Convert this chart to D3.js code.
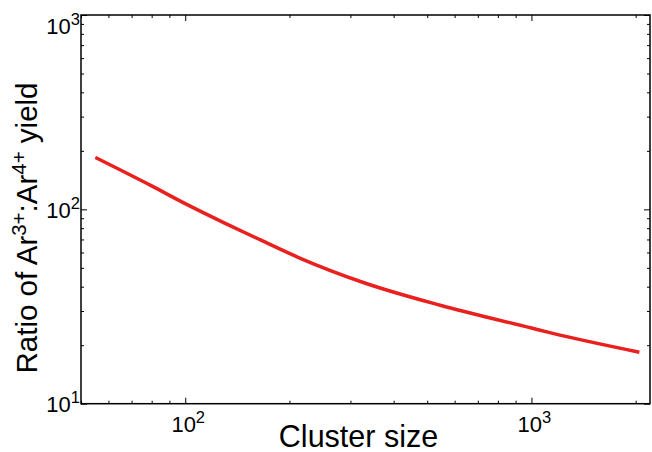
<!DOCTYPE html>
<html>
<head>
<meta charset="utf-8">
<script src="https://cdn.jsdelivr.net/npm/d3@7"></script>
<style>
  html, body { margin: 0; padding: 0; background: #fff; }
  svg { display: block; font-family: "Liberation Sans", Arial, sans-serif; }
  .domain { display: none; }
</style>
</head>
<body>
<svg id="chart" width="652" height="452"></svg>
<script>
// Cluster size vs. Ar3+:Ar4+ yield ratio
const clusterSize = [55, 80, 100, 130, 165, 215, 330, 545, 1000, 1130, 2050];
const yieldRatio  = [185, 132, 107, 85, 69.6, 56, 41.8, 32.1, 24.5, 23.2, 18.4];

const xDomain = [50, 2200];
const yDomain = [10, 1000];
const xMajor = [100, 1000];
const yMajor = [10, 100, 1000];
const xMajorExp = [2, 3];
const yMajorExp = [1, 2, 3];

const svg = d3.select("#chart");
const plotLeft = 81, plotRight = 650, plotTop = 15, plotBottom = 403.7;

const x = d3.scaleLog().domain(xDomain).range([plotLeft, plotRight]);
const y = d3.scaleLog().domain(yDomain).range([plotBottom, plotTop]);

// minor tick values (2..9 × 10^e) inside the domain
function minors(domain) {
  const out = [];
  for (let e = -1; e <= 5; e++) {
    for (let m = 2; m <= 9; m++) {
      const v = m * Math.pow(10, e);
      if (v >= domain[0] && v <= domain[1]) out.push(v);
    }
  }
  return out;
}
const xMinor = minors(xDomain);
const yMinor = minors(yDomain);

const major = 6, minor = 3;
function addAxis(gen, transform) {
  svg.append("g").attr("transform", transform).call(gen)
    .call(g => g.selectAll("line").attr("stroke", "#000").attr("stroke-width", 1));
}
const noLabel = () => "";
// bottom / top
addAxis(d3.axisBottom(x).tickValues(xMajor).tickSize(-major).tickFormat(noLabel), `translate(0,${plotBottom})`);
addAxis(d3.axisBottom(x).tickValues(xMinor).tickSize(-minor).tickFormat(noLabel), `translate(0,${plotBottom})`);
addAxis(d3.axisTop(x).tickValues(xMajor).tickSize(-major).tickFormat(noLabel), `translate(0,${plotTop})`);
addAxis(d3.axisTop(x).tickValues(xMinor).tickSize(-minor).tickFormat(noLabel), `translate(0,${plotTop})`);
// left / right
addAxis(d3.axisLeft(y).tickValues(yMajor).tickSize(-major).tickFormat(noLabel), `translate(${plotLeft},0)`);
addAxis(d3.axisLeft(y).tickValues(yMinor).tickSize(-minor).tickFormat(noLabel), `translate(${plotLeft},0)`);
addAxis(d3.axisRight(y).tickValues(yMajor).tickSize(-major).tickFormat(noLabel), `translate(${plotRight},0)`);
addAxis(d3.axisRight(y).tickValues(yMinor).tickSize(-minor).tickFormat(noLabel), `translate(${plotRight},0)`);

// frame
svg.append("rect")
  .attr("x", plotLeft).attr("y", plotTop)
  .attr("width", plotRight - plotLeft).attr("height", plotBottom - plotTop)
  .attr("fill", "none").attr("stroke", "#000").attr("stroke-width", 1.5);

// tick labels as 10^n
function powerLabel(g, exp, anchor) {
  const t = g.append("text").attr("text-anchor", anchor).attr("fill", "#000").attr("font-size", 22);
  t.append("tspan").text("10");
  t.append("tspan").attr("font-size", 16.5).attr("dy", -9).text(exp);
}
xMajor.forEach((v, i) => {
  const g = svg.append("g").attr("transform", `translate(${x(v) + 3},${plotBottom + 28})`);
  powerLabel(g, xMajorExp[i], "middle");
});
yMajor.forEach((v, i) => {
  const base = Math.max(y(v) + 8.5, plotTop + 18.5);
  const g = svg.append("g").attr("transform", `translate(${plotLeft - 1},${base})`);
  powerLabel(g, yMajorExp[i], "end");
});

// data line
const line = d3.line()
  .x((d, i) => x(clusterSize[i]))
  .y(d => y(d))
  .curve(d3.curveMonotoneX);
svg.append("path")
  .attr("d", line(yieldRatio))
  .attr("fill", "none")
  .attr("stroke", "#e8211f")
  .attr("stroke-width", 3.5)
  .attr("stroke-linecap", "butt");

// axis titles
svg.append("text")
  .attr("x", (plotLeft + plotRight) / 2 - 7).attr("y", 446.5)
  .attr("text-anchor", "middle").attr("font-size", 30.5).attr("fill", "#000")
  .text("Cluster size");

const yl = svg.append("text")
  .attr("transform", `translate(37,228) rotate(-90)`)
  .attr("text-anchor", "middle").attr("font-size", 29.5).attr("fill", "#000");
yl.append("tspan").text("Ratio of Ar");
yl.append("tspan").attr("font-size", 20.5).attr("dy", -11).text("3+");
yl.append("tspan").attr("dy", 11).text(":Ar");
yl.append("tspan").attr("font-size", 20.5).attr("dy", -11).text("4+");
yl.append("tspan").attr("dy", 11).text(" yield");
</script>
</body>
</html>
